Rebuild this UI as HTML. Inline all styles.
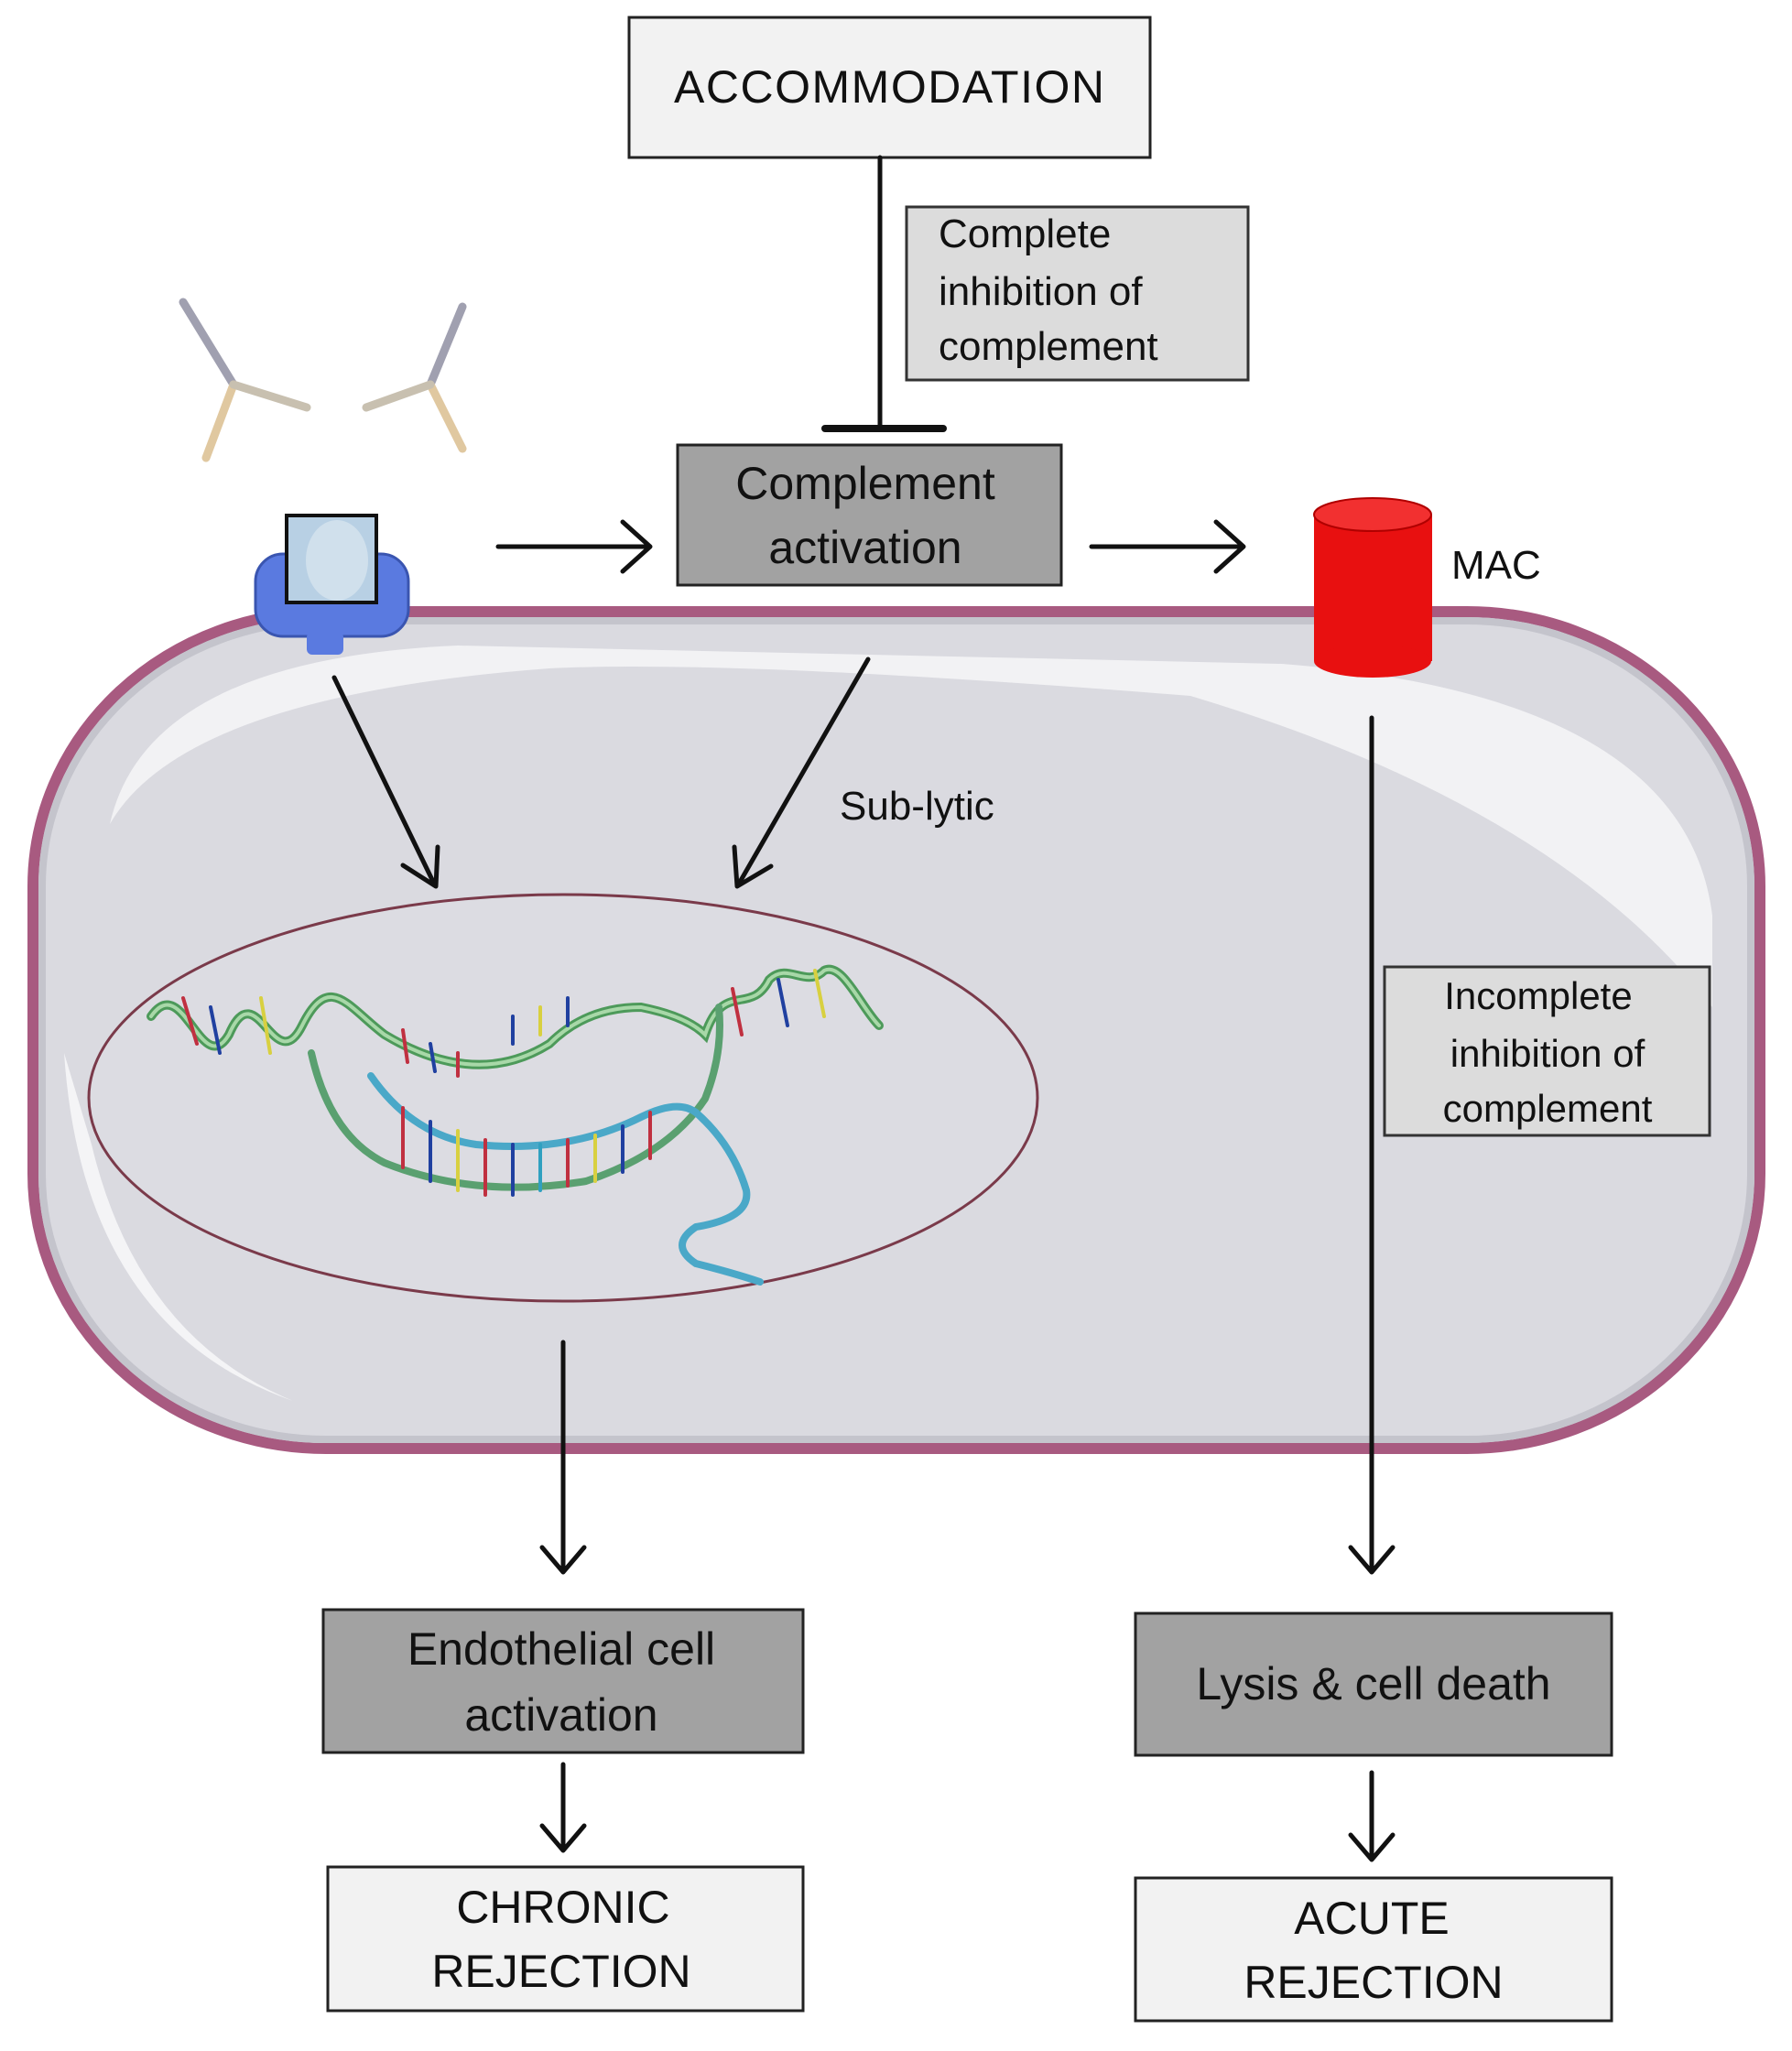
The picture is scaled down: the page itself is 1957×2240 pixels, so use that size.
<!DOCTYPE html>
<html><head><meta charset="utf-8"><style>
html,body{margin:0;padding:0;background:#fff}
svg{display:block}
text{font-family:"Liberation Sans",sans-serif;fill:#111}
</style></head><body>
<svg width="1957" height="2240" viewBox="0 0 1957 2240" xmlns="http://www.w3.org/2000/svg">
<defs>
<marker id="ah" viewBox="0 0 20 20" refX="18" refY="10" markerWidth="12" markerHeight="12" markerUnits="userSpaceOnUse" orient="auto">
</marker>
</defs>
<!-- cell -->
<rect x="36" y="668" width="1886" height="914" rx="320" ry="300" fill="#dadae0" stroke="#a85a80" stroke-width="12"/>
<rect x="46" y="678" width="1866" height="894" rx="310" ry="290" fill="none" stroke="#c4c4cc" stroke-width="8"/>
<path d="M120 900 Q160 720 500 705 L1400 725 Q1840 760 1870 1000 L1870 1100 Q1700 880 1300 760 Q800 720 600 730 Q200 760 120 900Z" fill="#f4f4f6" opacity="0.9"/>
<path d="M70 1150 Q90 1450 320 1530 Q150 1460 100 1250Z" fill="#f4f4f6"/>
<!-- nucleus -->
<ellipse cx="615" cy="1199" rx="518" ry="222" fill="#dcdce2" stroke="#7a3a4a" stroke-width="3"/>
<!-- DNA -->
<g fill="none" stroke-linecap="round">
<path d="M165 1110 C200 1060 220 1180 250 1130 C280 1060 300 1180 330 1120 C360 1060 380 1100 420 1130 Q520 1190 600 1140 Q640 1100 700 1100 Q750 1110 770 1130 C790 1070 820 1110 840 1070 C860 1050 880 1080 900 1060 C920 1050 940 1100 960 1120" stroke="#4d9a5a" stroke-width="10"/>
<path d="M165 1110 C200 1060 220 1180 250 1130 C280 1060 300 1180 330 1120 C360 1060 380 1100 420 1130 Q520 1190 600 1140 Q640 1100 700 1100 Q750 1110 770 1130 C790 1070 820 1110 840 1070 C860 1050 880 1080 900 1060 C920 1050 940 1100 960 1120" stroke="#a8d8a8" stroke-width="4"/>
<path d="M340 1150 Q360 1240 420 1270 Q520 1310 640 1290 Q730 1260 770 1200 Q790 1150 785 1100" stroke="#5aa070" stroke-width="8"/>
<path d="M405 1175 Q450 1240 520 1250 Q620 1260 700 1220 Q740 1200 760 1215 Q800 1250 815 1300 Q820 1330 760 1340 Q730 1360 760 1380 Q800 1390 830 1400" stroke="#4aa8c8" stroke-width="8"/>
<g stroke-width="4">
<line x1="440" y1="1210" x2="440" y2="1275" stroke="#c03040"/><line x1="470" y1="1225" x2="470" y2="1290" stroke="#2040a0"/>
<line x1="500" y1="1235" x2="500" y2="1300" stroke="#d8d040"/><line x1="530" y1="1245" x2="530" y2="1305" stroke="#c03040"/>
<line x1="560" y1="1250" x2="560" y2="1305" stroke="#2040a0"/><line x1="590" y1="1250" x2="590" y2="1300" stroke="#30a0c0"/>
<line x1="620" y1="1245" x2="620" y2="1295" stroke="#c03040"/><line x1="650" y1="1240" x2="650" y2="1290" stroke="#d8d040"/>
<line x1="680" y1="1230" x2="680" y2="1280" stroke="#2040a0"/><line x1="710" y1="1215" x2="710" y2="1265" stroke="#c03040"/>
<line x1="440" y1="1125" x2="445" y2="1160" stroke="#c03040"/><line x1="470" y1="1140" x2="475" y2="1170" stroke="#2040a0"/>
<line x1="500" y1="1150" x2="500" y2="1175" stroke="#c03040"/><line x1="560" y1="1110" x2="560" y2="1140" stroke="#2040a0"/>
<line x1="590" y1="1100" x2="590" y2="1130" stroke="#d8d040"/><line x1="620" y1="1090" x2="620" y2="1120" stroke="#2040a0"/>
<line x1="200" y1="1090" x2="215" y2="1140" stroke="#c03040"/><line x1="230" y1="1100" x2="240" y2="1150" stroke="#2040a0"/>
<line x1="285" y1="1090" x2="295" y2="1150" stroke="#d8d040"/><line x1="800" y1="1080" x2="810" y2="1130" stroke="#c03040"/>
<line x1="850" y1="1070" x2="860" y2="1120" stroke="#2040a0"/><line x1="890" y1="1060" x2="900" y2="1110" stroke="#d8d040"/>
</g></g>
<!-- receptor -->
<rect x="279" y="605" width="167" height="90" rx="30" fill="#5a7ae0" stroke="#3a55b0" stroke-width="3"/>
<rect x="335" y="690" width="40" height="25" rx="6" fill="#5a7ae0"/>
<rect x="313" y="563" width="98" height="95" fill="#b8d0e4" stroke="#111" stroke-width="4"/>
<ellipse cx="368" cy="612" rx="34" ry="44" fill="#d0e0ec"/>
<!-- antibodies -->
<g stroke-width="9" stroke-linecap="round" fill="none">
<line x1="200" y1="330" x2="255" y2="420" stroke="#a0a0b0"/><line x1="255" y1="420" x2="225" y2="500" stroke="#e0c8a0"/><line x1="255" y1="420" x2="335" y2="445" stroke="#c8c0b0"/>
<line x1="505" y1="335" x2="470" y2="420" stroke="#a0a0b0"/><line x1="470" y1="420" x2="505" y2="490" stroke="#e0c8a0"/><line x1="470" y1="420" x2="400" y2="445" stroke="#c8c0b0"/>
</g>
<!-- MAC -->
<rect x="1435" y="562" width="129" height="160" fill="#e81010"/>
<ellipse cx="1499" cy="722" rx="64" ry="18" fill="#e81010"/>
<ellipse cx="1499" cy="562" rx="64" ry="18" fill="#f23030" stroke="#b00000" stroke-width="2"/>
<text x="1585" y="632" font-size="44">MAC</text>
<!-- boxes -->
<rect x="687" y="19" width="569" height="153" fill="#f2f2f2" stroke="#222" stroke-width="3"/>
<text x="971" y="112" font-size="50" text-anchor="middle" textLength="470">ACCOMMODATION</text>
<rect x="990" y="226" width="373" height="189" fill="#dcdcdc" stroke="#333" stroke-width="3"/>
<text font-size="44"><tspan x="1025" y="270">Complete</tspan><tspan x="1025" y="333">inhibition of</tspan><tspan x="1025" y="393">complement</tspan></text>
<rect x="740" y="486" width="419" height="153" fill="#a2a2a2" stroke="#222" stroke-width="3"/>
<text font-size="50" text-anchor="middle"><tspan x="945" y="545">Complement</tspan><tspan x="945" y="615">activation</tspan></text>
<rect x="1512" y="1056" width="355" height="184" fill="#dcdcdc" stroke="#333" stroke-width="3"/>
<text font-size="42" text-anchor="middle"><tspan x="1680" y="1102">Incomplete</tspan><tspan x="1690" y="1165">inhibition of</tspan><tspan x="1690" y="1225">complement</tspan></text>
<text x="917" y="895" font-size="44">Sub-lytic</text>
<rect x="353" y="1758" width="524" height="156" fill="#a2a2a2" stroke="#222" stroke-width="3"/>
<text font-size="50" text-anchor="middle"><tspan x="613" y="1818">Endothelial cell</tspan><tspan x="613" y="1890">activation</tspan></text>
<rect x="358" y="2039" width="519" height="157" fill="#f2f2f2" stroke="#222" stroke-width="3"/>
<text font-size="50" text-anchor="middle"><tspan x="615" y="2100">CHRONIC</tspan><tspan x="613" y="2170">REJECTION</tspan></text>
<rect x="1240" y="1762" width="520" height="155" fill="#a2a2a2" stroke="#222" stroke-width="3"/>
<text x="1500" y="1856" font-size="50" text-anchor="middle">Lysis &amp; cell death</text>
<rect x="1240" y="2051" width="520" height="156" fill="#f2f2f2" stroke="#222" stroke-width="3"/>
<text font-size="50" text-anchor="middle"><tspan x="1498" y="2112">ACUTE</tspan><tspan x="1500" y="2182">REJECTION</tspan></text>
<!-- connectors -->
<g stroke="#111" stroke-width="5" fill="none" stroke-linecap="round" stroke-linejoin="round">
<line x1="961" y1="172" x2="961" y2="466"/>
<line x1="901" y1="468" x2="1030" y2="468" stroke-width="8"/>
<line x1="544" y1="597" x2="708" y2="597"/><polyline points="680,570 710,597 680,624"/>
<line x1="1192" y1="597" x2="1356" y2="597"/><polyline points="1328,570 1358,597 1328,624"/>
<line x1="365" y1="740" x2="474" y2="965"/><polyline points="440,945 476,968 478,925"/>
<line x1="948" y1="720" x2="807" y2="965"/><polyline points="802,925 805,968 842,946"/>
<line x1="1498" y1="784" x2="1498" y2="1714"/><polyline points="1475,1690 1498,1717 1521,1690"/>
<line x1="615" y1="1466" x2="615" y2="1714"/><polyline points="592,1690 615,1717 638,1690"/>
<line x1="615" y1="1927" x2="615" y2="2018"/><polyline points="592,1994 615,2021 638,1994"/>
<line x1="1498" y1="1936" x2="1498" y2="2028"/><polyline points="1475,2004 1498,2031 1521,2004"/>
</g>
</svg>
</body></html>
